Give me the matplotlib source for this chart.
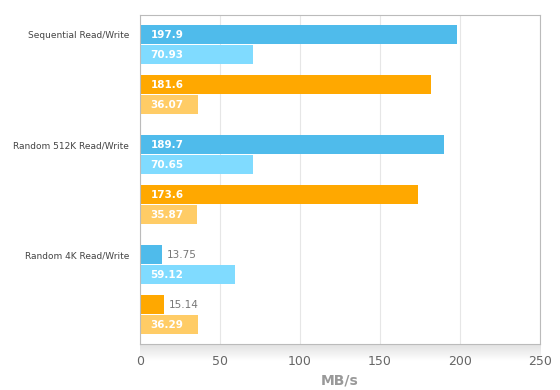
import numpy as np
import matplotlib.pyplot as plt

# 数据
categories = ['Sequential Read/Write', 'Random 512K Read/Write', 'Random 4K Read/Write']
blue_read = [197.9, 189.7, 13.75]
blue_write = [70.93, 70.65, 59.12]
orange_read = [181.6, 173.6, 15.14]
orange_write = [36.07, 35.87, 36.29]
xticks = [0, 50, 100, 150, 200, 250]

series = [blue_read, blue_write, orange_read, orange_write]
colors = ['#4fbbeb', '#80dbff', '#ffa800', '#ffcc66']
offsets = [0, 1, 2.5, 3.5]
group_gap = 5.5

fig = plt.figure(figsize=(5.6, 3.9), dpi=100)
ax = fig.add_axes([0.25, 0.1179, 0.7143, 0.8436])

for s, vals in enumerate(series):
    for g, v in enumerate(vals):
        y = g * group_gap + offsets[s]
        ax.barh(y, v, height=0.95, color=colors[s], zorder=2)
        if v < 20:
            ax.text(v + 3, y, f'{v:g}', color='#777777', fontsize=7.5,
                    va='center', ha='left')
        else:
            ax.text(6.5, y, f'{v:g}', color='white', fontsize=7.5,
                    fontweight='bold', va='center', ha='left')

ax.set_xlim(0, 250)
ax.set_ylim(2 * group_gap + 3.5 + 0.975, -0.975)
ax.set_xticks(xticks)
ax.set_xticklabels([str(t) for t in xticks], color='#666666', fontsize=9)
ax.set_yticks([g * group_gap for g in range(len(categories))])
ax.set_yticklabels(categories, color='#444444', fontsize=6.5)
ax.tick_params(length=0, axis='both')
ax.tick_params(axis='x', pad=8)
ax.tick_params(axis='y', pad=8)
ax.grid(axis='x', color='#e6e6e6', linewidth=0.8, zorder=0)
for sp in ax.spines.values():
    sp.set_color('#bbbbbb')
ax.set_xlabel('MB/s', color='#999999', fontsize=10, fontweight='bold', labelpad=4)

# 底部阴影
sh = fig.add_axes([0.25, 0.075, 0.7143, 0.043])
grad = np.linspace(0.88, 1.0, 50).reshape(-1, 1)
sh.imshow(grad, cmap='gray', vmin=0, vmax=1, aspect='auto', extent=[0, 1, 0, 1])
sh.axis('off')
sh.set_zorder(-1)

fig.savefig('out.png', dpi=100)
